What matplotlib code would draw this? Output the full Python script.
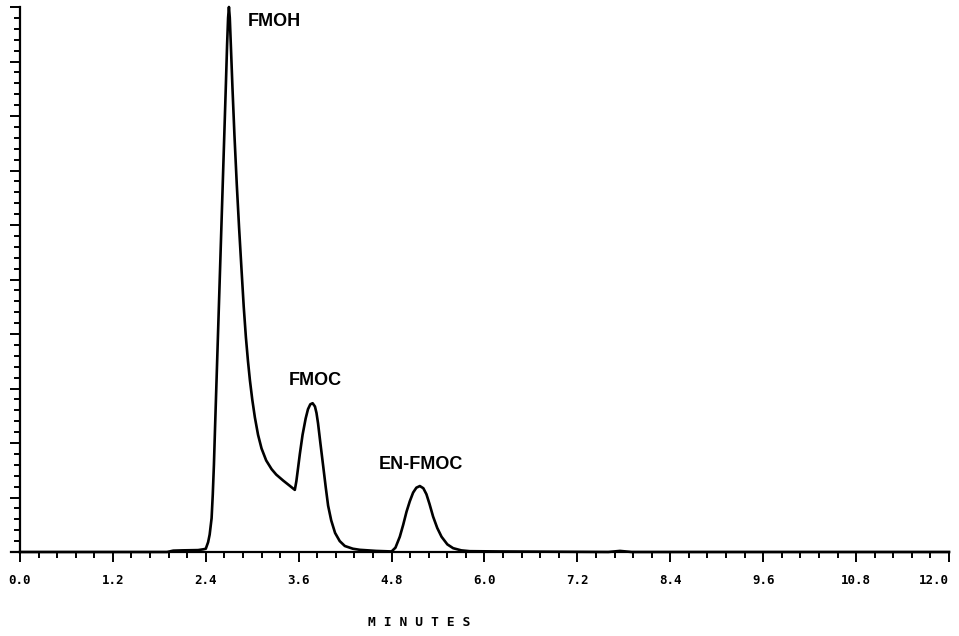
import matplotlib
matplotlib.use("Agg")
import matplotlib.pyplot as plt
from matplotlib.ticker import MultipleLocator, FixedLocator

# trace (minutes, detector response)
minutes = [0.0, 1.0, 1.90, 1.98, 2.10, 2.30, 2.37, 2.40, 2.43, 2.45, 2.475,
           2.49, 2.505, 2.52, 2.54, 2.56, 2.58, 2.60, 2.62, 2.64, 2.66,
           2.675, 2.688, 2.699, 2.71, 2.725, 2.745, 2.77, 2.80, 2.83,
           2.862, 2.89, 2.918, 2.945, 2.97, 3.0, 3.034, 3.075, 3.12, 3.18,
           3.25, 3.31, 3.40, 3.48, 3.55, 3.57, 3.59, 3.615, 3.65, 3.69, 3.72,
           3.75, 3.78, 3.81, 3.83, 3.85, 3.88, 3.916, 3.95, 3.98, 4.02, 4.07,
           4.13, 4.196, 4.30, 4.39, 4.60, 4.80, 4.85, 4.906, 4.95, 4.993,
           5.035, 5.078, 5.12, 5.165, 5.21, 5.25, 5.29, 5.336, 5.39, 5.445,
           5.52, 5.595, 5.70, 5.81, 6.2, 7.6, 7.75, 7.9, 12.0]
response = [0.0, 0.0, 0.0, 0.025, 0.03, 0.035, 0.05, 0.06, 0.18, 0.32, 0.62,
            1.05, 1.6, 2.3, 3.2, 4.1, 5.0, 5.9, 6.8, 7.7, 8.6,
            9.3, 9.8, 10.0, 9.8, 9.25, 8.5, 7.65, 6.75, 5.95,
            5.17, 4.5, 3.94, 3.5, 3.15, 2.8, 2.47, 2.15, 1.9, 1.68,
            1.52, 1.42, 1.31, 1.22, 1.14, 1.3, 1.52, 1.8, 2.15, 2.45, 2.62,
            2.71, 2.73, 2.67, 2.55, 2.36, 2.0, 1.58, 1.18, 0.85, 0.58, 0.35,
            0.2, 0.11, 0.06, 0.04, 0.02, 0.01, 0.08, 0.28, 0.5, 0.74,
            0.93, 1.09, 1.18, 1.21, 1.17, 1.06, 0.88, 0.65, 0.44, 0.28,
            0.14, 0.07, 0.03, 0.015, 0.01, 0.0, 0.02, 0.0, 0.0]

peak_names = ["FMOH", "FMOC", "EN-FMOC"]
peak_label_x = [3.28, 3.81, 5.18]
peak_label_y = [9.74, 3.14, 1.60]

tick_values = [0.0, 1.2, 2.4, 3.6, 4.8, 6.0, 7.2, 8.4, 9.6, 10.8, 12.0]
tick_labels = ["0.0", "1.2", "2.4", "3.6", "4.8", "6.0", "7.2", "8.4", "9.6", "10.8", "12.0"]

W, H = 959, 636
fig = plt.figure(figsize=(W / 100, H / 100), dpi=100)
left_px, right_px, top_px, base_px = 10.7, 949, 7, 552
ax = fig.add_axes([left_px / W, 1 - base_px / H,
                   (right_px - left_px) / W, (base_px - top_px) / H])

ax.plot(minutes, response, color="black", lw=1.9, solid_joinstyle="round",
        clip_on=False, zorder=3)

ax.set_xlim(-0.12, 12.0)
ax.set_ylim(0, 10)

for s in ["top", "right"]:
    ax.spines[s].set_visible(False)
ax.spines["left"].set_position(("data", 0))
ax.spines["left"].set_linewidth(1.6)
ax.spines["bottom"].set_linewidth(1.6)

ax.xaxis.set_major_locator(FixedLocator(tick_values))
ax.xaxis.set_minor_locator(MultipleLocator(0.24))
ax.set_xticklabels(tick_labels, family="DejaVu Sans Mono", weight="bold", fontsize=9)
# the last label sits to the left of its tick, as in the original
ax.get_xticklabels()[-1].set_horizontalalignment("right")
ax.yaxis.set_major_locator(MultipleLocator(1))
ax.yaxis.set_minor_locator(MultipleLocator(0.2))
ax.set_yticklabels([])

ax.tick_params(axis="x", which="major", direction="out", length=7.5, width=1.4, pad=8)
ax.tick_params(axis="x", which="minor", direction="out", length=4, width=1.4)
ax.tick_params(axis="y", which="major", direction="out", length=7.5, width=1.4)
ax.tick_params(axis="y", which="minor", direction="out", length=4, width=1.4)

# peak names
for name, x, y in zip(peak_names, peak_label_x, peak_label_y):
    ax.text(x, y, name, ha="center", va="center", family="Liberation Sans",
            weight="bold", fontsize=13)

fig.text(419 / W, 1 - 623 / H, "M I N U T E S", ha="center", va="center",
         family="DejaVu Sans Mono", weight="bold", fontsize=9.4)

fig.savefig("out.png", dpi=100, facecolor="white")
